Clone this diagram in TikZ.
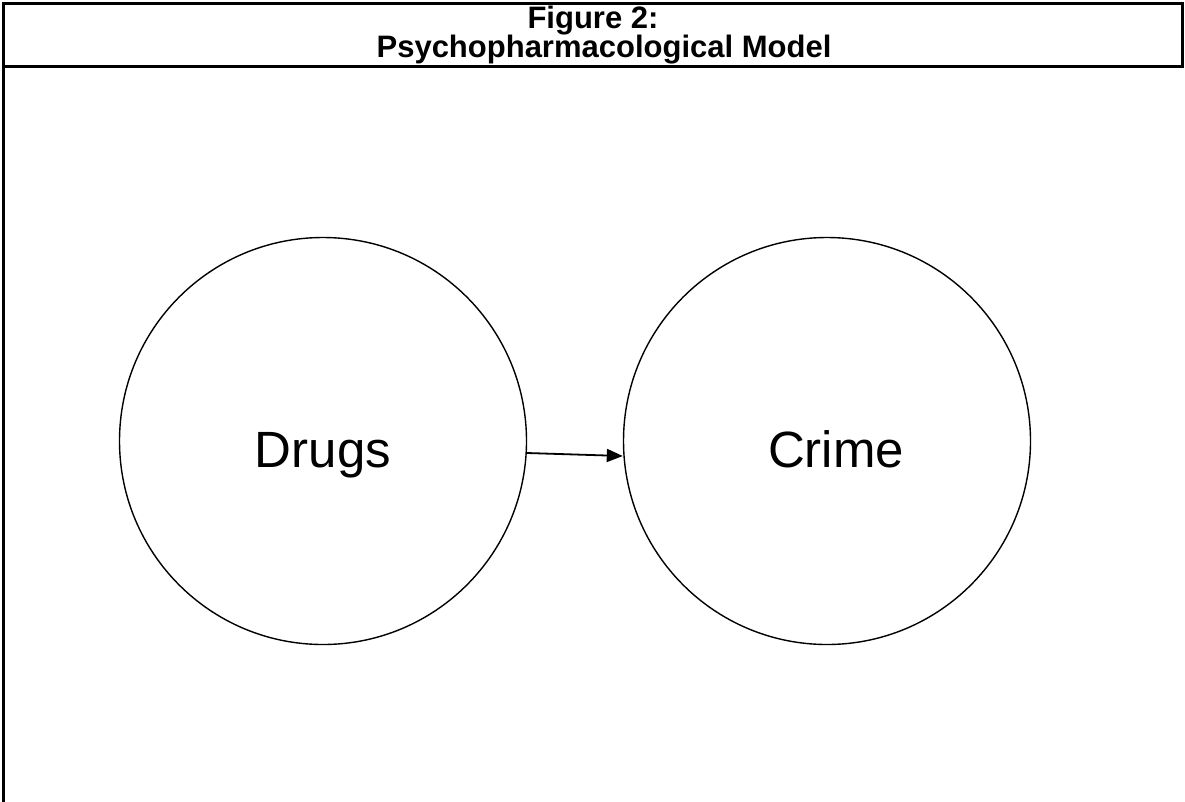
\documentclass[tikz,border=0pt]{standalone}
\usepackage{fontspec}
\setmainfont{Liberation Sans}
\usetikzlibrary{arrows.meta}
\begin{document}
\begin{tikzpicture}[x=1pt,y=-1pt,
  frame/.style={line width=3pt, line cap=rect},
  circ/.style={draw, circle, line width=1.4pt, minimum size=407pt, inner sep=0pt},
  lbl/.style={font=\fontsize{51}{51}\selectfont, anchor=base, inner sep=0pt},
  ttl/.style={font=\fontsize{31}{33}\selectfont\bfseries, anchor=base, inner sep=0pt},
  arr/.style={-{Triangle[length=16pt,width=13pt]}, line width=1.8pt}]
\useasboundingbox (0,0) rectangle (1185,801);
\fill[white] (0,0) rectangle (1185,801);
% frame
\coordinate (tl) at (3,3);
\coordinate (tr) at (1182,3);
\coordinate (hl) at (3,66);
\coordinate (hr) at (1182,66);
\coordinate (bl) at (3,801);
\draw[frame] (bl) -- (tl) -- (tr) -- (hr);
\draw[frame] (hl) -- (hr);
% title
\node[ttl] (t1) at (593,28) {Figure 2:};
\node[ttl] (t2) at (604,57) {Psychopharmacological Model};
% circles
\node[circ] (drugs) at (323,441) {};
\node[circ] (crime) at (827,441) {};
\node[lbl] (drugsl) at ([yshift=-26pt]drugs.center) {Drugs};
\node[lbl] (crimel) at ([xshift=9pt,yshift=-26pt]crime.center) {Crime};
% arrow
\draw[arr] ([yshift=-12pt]drugs.east) -- ([yshift=-15pt]crime.west);
\end{tikzpicture}
\end{document}
